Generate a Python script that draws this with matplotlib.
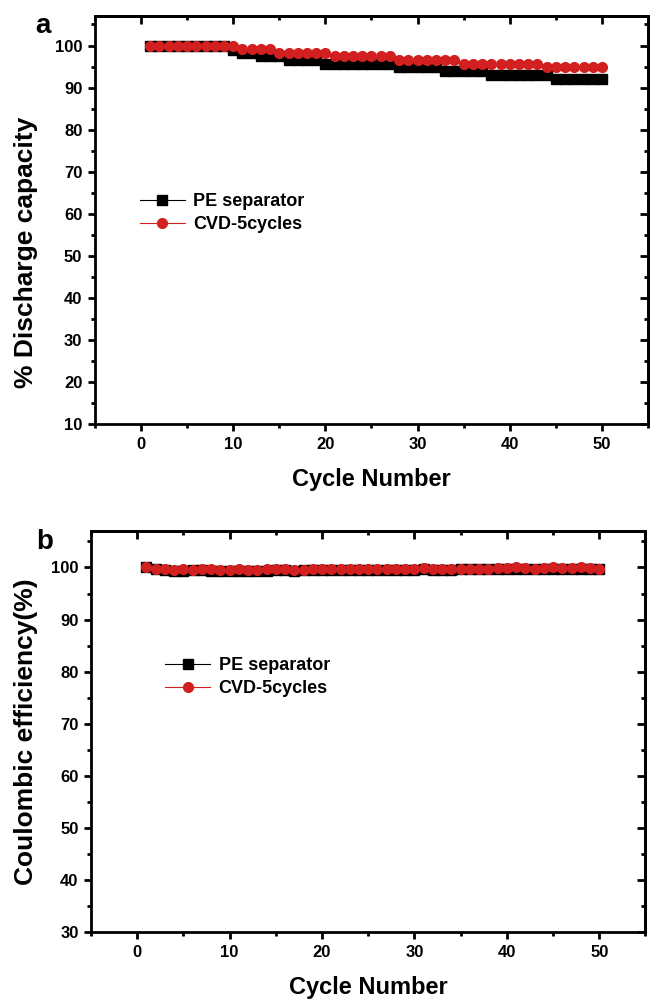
import numpy as np
import matplotlib
matplotlib.use("Agg")
import matplotlib.pyplot as plt
from matplotlib.ticker import MultipleLocator

plt.rcParams['font.family'] = ['Liberation Sans', 'DejaVu Sans']
plt.rcParams['font.weight'] = 'bold'

cycles = np.arange(1, 51)

# panel a - discharge capacity retention (%)
pe_capacity = ([100.0] * 9 + [99.0] + [98.2] * 2 + [97.4] * 3 + [96.5] * 4
               + [95.7] * 8 + [94.9] * 5 + [94.0] * 5 + [93.0] * 7 + [92.0] * 6)
cvd_capacity = ([100.0] * 9 + [99.8] + [99.2] * 4 + [98.2] * 6 + [97.5] * 7
                + [96.5] * 7 + [95.5] * 9 + [94.8] * 7)

# panel b - coulombic efficiency (%)
pe_ce = [100, 99.7, 99.5, 99.4, 99.4, 99.5, 99.5, 99.4, 99.4, 99.3,
         99.3, 99.3, 99.4, 99.4, 99.5, 99.5, 99.4, 99.5, 99.5, 99.5,
         99.5, 99.6, 99.5, 99.6, 99.6, 99.5, 99.6, 99.5, 99.6, 99.6,
         99.7, 99.6, 99.6, 99.6, 99.7, 99.7, 99.7, 99.7, 99.7, 99.8,
         99.8, 99.7, 99.7, 99.8, 99.8, 99.7, 99.7, 99.8, 99.7, 99.8]
cvd_ce = [100, 99.8, 99.7, 99.6, 99.7, 99.6, 99.8, 99.7, 99.6, 99.6,
          99.7, 99.6, 99.6, 99.7, 99.7, 99.8, 99.6, 99.6, 99.7, 99.7,
          99.7, 99.7, 99.8, 99.7, 99.7, 99.7, 99.7, 99.7, 99.8, 99.8,
          99.9, 99.8, 99.7, 99.8, 99.7, 99.8, 99.8, 99.8, 99.9, 99.9,
          100, 99.9, 99.8, 99.9, 100, 99.9, 99.9, 100, 99.9, 99.8]

RED = '#d21f1f'


def style_axis(ax, ymin, ymax):
    ax.set_xlim(-5, 55)
    ax.set_ylim(ymin, ymax)
    ax.xaxis.set_major_locator(MultipleLocator(10))
    ax.xaxis.set_minor_locator(MultipleLocator(5))
    ax.yaxis.set_major_locator(MultipleLocator(10))
    ax.yaxis.set_minor_locator(MultipleLocator(5))
    for s in ax.spines.values():
        s.set_linewidth(2.0)
    # outward ticks on bottom/left, inward on top/right
    ax.tick_params(which='both', direction='out', width=2.0, labelsize=12,
                   top=False, right=False, pad=4)
    ax.tick_params(which='major', length=5)
    ax.tick_params(which='minor', length=3)
    sec_x = ax.secondary_xaxis('top')
    sec_x.xaxis.set_major_locator(MultipleLocator(10))
    sec_x.xaxis.set_minor_locator(MultipleLocator(5))
    sec_x.tick_params(which='both', direction='in', width=2.0, labeltop=False)
    sec_x.tick_params(which='major', length=6)
    sec_x.tick_params(which='minor', length=3)
    sec_x.spines['top'].set_linewidth(2.0)
    sec_y = ax.secondary_yaxis('right')
    sec_y.yaxis.set_major_locator(MultipleLocator(10))
    sec_y.yaxis.set_minor_locator(MultipleLocator(5))
    sec_y.tick_params(which='both', direction='in', width=2.0, labelright=False)
    sec_y.tick_params(which='major', length=6)
    sec_y.tick_params(which='minor', length=3)
    sec_y.spines['right'].set_linewidth(2.0)
    for lab in ax.get_xticklabels() + ax.get_yticklabels():
        lab.set_fontweight('bold')
    ax.set_xlabel('Cycle Number', fontsize=17, fontweight='bold', labelpad=12)


def add_legend(ax, x, y):
    ax.legend(loc='center left', bbox_to_anchor=(x, y), frameon=False,
              borderpad=0, borderaxespad=0, handlelength=2.5,
              handletextpad=0.45, labelspacing=0.33,
              prop={'weight': 'bold', 'size': 13})


fig = plt.figure(figsize=(6.5, 10.05), dpi=100)

# Panel a
ax1 = fig.add_axes([0.146, 0.578, 0.851, 0.406])
ax1.plot(cycles, pe_capacity, color='black', lw=0.8, marker='s', ms=6.5,
         label='PE separator')
ax1.plot(cycles, cvd_capacity, color=RED, lw=0.8, marker='o', ms=7,
         label='CVD-5cycles')
style_axis(ax1, 10, 107)
ax1.set_ylabel('% Discharge capacity', fontsize=19, fontweight='bold')
ax1.yaxis.set_label_coords(-0.103, 0.42)
add_legend(ax1, 0.081, 0.517)
fig.text(0.055, 0.987, 'a', fontsize=20, fontweight='bold', va='top')

# Panel b
ax2 = fig.add_axes([0.14, 0.0726, 0.853, 0.399])
ax2.plot(cycles, pe_ce, color='black', lw=0.8, marker='s', ms=6.5,
         label='PE separator')
ax2.plot(cycles, cvd_ce, color=RED, lw=0.8, marker='o', ms=7,
         label='CVD-5cycles')
style_axis(ax2, 30, 107)
ax2.set_ylabel('Coulombic efficiency(%)', fontsize=19, fontweight='bold')
ax2.yaxis.set_label_coords(-0.096, 0.5)
add_legend(ax2, 0.134, 0.635)
fig.text(0.055, 0.474, 'b', fontsize=20, fontweight='bold', va='top')

fig.savefig('out.png', dpi=100)
